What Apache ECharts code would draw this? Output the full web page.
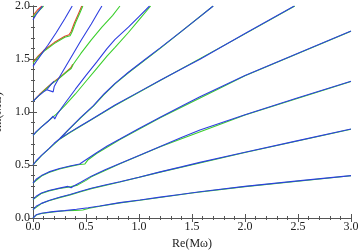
<!DOCTYPE html>
<html><head><meta charset="utf-8">
<script src="https://cdn.jsdelivr.net/npm/echarts@6/dist/echarts.min.js"></script>
<style>html,body{margin:0;padding:0;background:#fff}#c{width:359px;height:250px}</style>
</head><body><div id="c"></div>
<script>
// ---- data ----
const xTickLabels = ['0.0','0.5','1.0','1.5','2.0','2.5','3.0'];
const yTickLabels = ['0.0','0.5','1.0','1.5','2.0'];

const blueA = [[0,0],[0.03,0.03],[0.08,0.045],[0.19,0.06],[0.3,0.07],[0.41,0.082],[0.52,0.097],[0.63,0.113],[0.82,0.145],[1.01,0.17],[1.2,0.197],[1.387,0.222],[1.575,0.248],[2.0,0.298],[2.5,0.35],[3.0,0.40]];
const blueB = [[0,0.08],[0.03,0.11],[0.08,0.138],[0.15,0.165],[0.25,0.195],[0.35,0.222],[0.45,0.252],[0.55,0.28],[0.68,0.312],[0.82,0.342],[1.0,0.385],[1.2,0.435],[1.4,0.482],[1.575,0.525],[2.0,0.62],[2.5,0.73],[3.0,0.84]];
const blueC = [[0,0.175],[0.03,0.205],[0.08,0.235],[0.15,0.26],[0.25,0.282],[0.33,0.298],[0.36,0.286],[0.38,0.3],[0.45,0.338],[0.55,0.395],[0.68,0.455],[0.82,0.515],[1.0,0.59],[1.2,0.675],[1.4,0.76],[1.575,0.83],[2.0,0.975],[2.5,1.135],[3.0,1.29]];
const blueD = [[0,0.33],[0.03,0.365],[0.08,0.4],[0.15,0.435],[0.25,0.467],[0.35,0.49],[0.44,0.51],[0.5,0.55],[0.6,0.615],[0.7,0.68],[0.82,0.745],[1.0,0.845],[1.2,0.95],[1.4,1.055],[1.575,1.144],[2.0,1.345],[2.5,1.555],[3.0,1.764]];
const blueE = [[0,0.5],[0.03,0.54],[0.08,0.59],[0.15,0.655],[0.2,0.705],[0.255,0.75],[0.35,0.81],[0.45,0.87],[0.55,0.93],[0.65,0.99],[0.774,1.066],[1.0,1.19],[1.2,1.3],[1.4,1.405],[1.575,1.497],[2.0,1.74],[2.465,2.0]];
const blueF = [[0.255,0.75],[0.33,0.83],[0.45,0.95],[0.57,1.06],[0.67,1.17],[0.774,1.27],[0.9,1.375],[1.05,1.49],[1.2,1.605],[1.4,1.76],[1.575,1.9],[1.7,2.0]];
const blueG = [[0,0.78],[0.03,0.815],[0.08,0.86],[0.14,0.91],[0.19,0.96],[0.205,0.935],[0.225,0.975],[0.3,1.08],[0.4,1.215],[0.5,1.345],[0.6,1.47],[0.7,1.6],[0.774,1.685],[0.9,1.8],[1.0,1.9],[1.1,2.0]];
const blueH = [[0,1.1],[0.05,1.15],[0.1,1.19],[0.13,1.21],[0.19,1.19],[0.2,1.24],[0.25,1.33],[0.35,1.5],[0.45,1.67],[0.55,1.83],[0.62,1.95],[0.65,2.0]];
const blueH2 = [[0.13,1.21],[0.176,1.268],[0.2,1.29]];
const blueK = [[0,1.43],[0.04,1.49],[0.09,1.56],[0.14,1.63],[0.22,1.75],[0.3,1.88],[0.37,2.0]];
const blueTop = [[0,1.87],[0.03,1.92],[0.06,1.96],[0.09,2.0]];

const greenA = [[0,0],[0.03,0.028],[0.08,0.043],[0.19,0.058],[0.3,0.068],[0.4,0.072],[0.47,0.075],[0.53,0.092],[0.63,0.111],[0.82,0.143],[1.01,0.168],[1.5,0.236],[2.0,0.296],[3.0,0.398]];
const greenB = [[0,0.08],[0.08,0.136],[0.15,0.163],[0.25,0.192],[0.35,0.218],[0.45,0.248],[0.55,0.277],[0.82,0.34],[1.2,0.433],[2.0,0.618],[3.0,0.838]];
const greenC = [[0,0.175],[0.08,0.232],[0.15,0.256],[0.25,0.278],[0.36,0.296],[0.42,0.31],[0.5,0.355],[0.55,0.388],[0.82,0.512],[1.2,0.672],[2.0,0.972],[3.0,1.287]];
const greenD = [[0,0.33],[0.08,0.396],[0.15,0.43],[0.25,0.463],[0.35,0.487],[0.44,0.505],[0.49,0.51],[0.52,0.55],[0.6,0.608],[0.82,0.74],[1.2,0.946],[2.0,1.342],[3.0,1.761]];
const greenE = [[0,0.5],[0.08,0.588],[0.15,0.652],[0.255,0.746],[0.35,0.806],[0.55,0.926],[0.774,1.062],[1.2,1.297],[2.0,1.737],[2.47,2.0]];
const greenF = [[0.255,0.75],[0.33,0.826],[0.45,0.944],[0.57,1.055],[0.67,1.164],[0.774,1.265],[0.9,1.37],[1.2,1.6],[1.7,2.0]];
const greenG = [[0,0.78],[0.08,0.86],[0.15,0.92],[0.22,0.98],[0.3,1.06],[0.4,1.17],[0.5,1.29],[0.6,1.41],[0.7,1.53],[0.774,1.61],[0.9,1.75],[1.0,1.87],[1.11,2.0]];
const greenH = [[0,1.1],[0.06,1.16],[0.12,1.215],[0.176,1.265],[0.25,1.32],[0.32,1.38],[0.36,1.41],[0.38,1.45],[0.45,1.55],[0.55,1.68],[0.65,1.8],[0.75,1.91],[0.82,2.0]];
const greenK = [[0,1.46],[0.05,1.52],[0.1,1.57],[0.2,1.645],[0.3,1.705],[0.35,1.72],[0.37,1.76],[0.4,1.84],[0.44,1.93],[0.47,2.0]];
const greenTop = [[0,1.9],[0.05,1.95],[0.1,2.0]];

const redH = [[0,1.1],[0.06,1.165],[0.12,1.22],[0.176,1.27],[0.25,1.325],[0.32,1.385],[0.355,1.415],[0.375,1.45]];
const redK = [[0,1.47],[0.05,1.53],[0.1,1.58],[0.2,1.655],[0.3,1.715],[0.34,1.728],[0.36,1.76],[0.39,1.84],[0.43,1.93],[0.46,2.0]];
const redTop = [[0,1.91],[0.04,1.96],[0.085,2.0]];

const blueColor = '#2e3fe0';
const greenColor = '#3ccf2e';
const redColor = '#e0442a';

const redLines = [redH, redK, redTop];
const greenLines = [greenA, greenB, greenC, greenD, greenE, greenF, greenG, greenH, greenK, greenTop];
const blueLines = [blueA, blueB, blueC, blueD, blueE, blueF, blueG, blueH, blueH2, blueK, blueTop];

function mk(data, color, z) {
  return {type:'line', data:data, showSymbol:false, symbol:'none', z:z,
    lineStyle:{color:color, width:1.1}, smooth:false, animation:false, clip:true};
}
const series = [];
redLines.forEach(d => series.push(mk(d, redColor, 2)));
greenLines.forEach(d => series.push(mk(d, greenColor, 3)));
blueLines.forEach(d => series.push(mk(d, blueColor, 4)));

const serif = 'Liberation Serif, Times New Roman, serif';
const frameColor = '#555';
const tickBase = {inside:true, length:4, lineStyle:{color:frameColor, width:1}};
const minorBase = {show:true, splitNumber:5, length:2, lineStyle:{color:frameColor, width:1}};

const chart = echarts.init(document.getElementById('c'), null, {renderer:'canvas'});
chart.setOption({
  animation:false,
  grid:{left:33, right:8, top:6, bottom:32, containLabel:false, outerBoundsMode:'none'},
  xAxis:[{
    type:'value', min:0, max:3, interval:0.5, position:'bottom',
    axisLine:{show:true, lineStyle:{color:frameColor, width:1}},
    axisTick:tickBase, minorTick:minorBase, splitLine:{show:false},
    axisLabel:{fontFamily:serif, fontSize:12, color:'#222', margin:3,
      formatter:(v)=>xTickLabels[Math.round(v/0.5)]},
    name:'Re(M\u03c9)', nameLocation:'middle', nameGap:16,
    nameTextStyle:{fontFamily:serif, fontSize:12, color:'#222'}
  },{
    type:'value', min:0, max:3, interval:0.5, position:'top',
    axisLine:{show:true, lineStyle:{color:frameColor, width:1}},
    axisTick:tickBase, minorTick:minorBase, axisLabel:{show:false}, splitLine:{show:false}
  }],
  yAxis:[{
    type:'value', min:0, max:2, interval:0.5, position:'left',
    axisLine:{show:true, lineStyle:{color:frameColor, width:1}},
    axisTick:tickBase, minorTick:minorBase, splitLine:{show:false},
    axisLabel:{fontFamily:serif, fontSize:12, color:'#222', margin:3,
      formatter:(v)=>yTickLabels[Math.round(v/0.5)]},
    name:'Im(M\u03c9)', nameLocation:'middle', nameGap:20,
    nameTextStyle:{fontFamily:serif, fontSize:12, color:'#222'}
  },{
    type:'value', min:0, max:2, interval:0.5, position:'right',
    axisLine:{show:true, lineStyle:{color:frameColor, width:1}},
    axisTick:tickBase, minorTick:minorBase, axisLabel:{show:false}, splitLine:{show:false}
  }],
  series:series
});
</script></body></html>
